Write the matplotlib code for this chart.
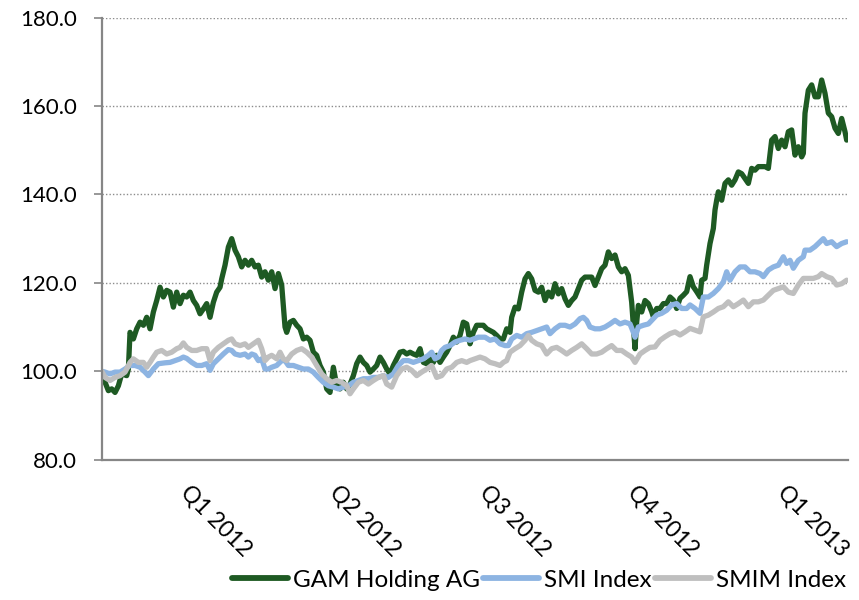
import numpy as np
import matplotlib.pyplot as plt

# x = days since start of the series
gam_days = [0, 2, 4, 6, 8, 10, 12, 15, 16, 17, 19, 21, 23, 25, 27, 29, 31, 33, 35, 37,
            39, 41, 43, 45, 47, 49, 51, 53, 55, 57, 59, 61, 63, 65, 67, 69, 71, 72, 74, 76,
            78, 80, 82, 84, 86, 88, 90, 92, 94, 96, 98, 100, 102, 104, 106, 108, 110, 111, 113, 115,
            117, 119, 121, 123, 125, 127, 129, 131, 133, 135, 137, 139, 141, 143, 145, 147, 149, 151, 153, 155,
            157, 159, 161, 163, 165, 167, 169, 171, 173, 175, 177, 179, 181, 183, 185, 187, 189, 191, 193, 195,
            197, 199, 201, 203, 205, 207, 209, 211, 213, 215, 217, 219, 220, 221, 223, 225, 227, 229, 231, 233,
            235, 237, 239, 241, 243, 245, 246, 248, 250, 252, 254, 256, 258, 260, 262, 264, 266, 268, 270, 272,
            274, 276, 278, 280, 282, 284, 286, 288, 290, 292, 294, 296, 298, 300, 302, 304, 306, 308, 310, 312,
            314, 316, 318, 319, 320, 321, 322, 324, 326, 328, 330, 331, 333, 335, 337, 339, 341, 343, 345, 347,
            349, 351, 353, 355, 357, 359, 360, 362, 363, 365, 367, 368, 369, 370, 372, 374, 376, 378, 380, 382,
            384, 386, 388, 390, 392, 394, 396, 398, 400, 402, 404, 406, 408, 410, 412, 414, 416, 418, 420, 421,
            422, 424, 426, 428, 430, 432, 434, 436, 438, 440, 442, 444, 446, 447]
gam_vals = [100.0, 97.5, 95.6, 96.0, 95.2, 96.7, 99.4, 99.0, 100.5, 108.8, 107.3, 109.6, 111.1, 110.4, 112.2, 109.6, 113.4, 116.0, 119.0, 116.8,
            118.3, 117.9, 114.5, 117.9, 115.3, 117.2, 116.8, 117.9, 116.0, 114.9, 113.0, 114.1, 115.3, 112.2, 115.6, 117.9, 119.0, 120.9, 124.0, 128.1,
            130.0, 127.4, 125.9, 123.6, 125.1, 124.0, 125.1, 123.6, 124.0, 121.3, 122.5, 120.6, 122.5, 118.7, 122.1, 119.5, 110.0, 108.8, 111.1, 111.5,
            110.4, 109.6, 107.3, 107.7, 107.0, 104.3, 103.6, 101.3, 99.8, 96.0, 95.2, 100.9, 96.7, 96.0, 97.5, 96.0, 97.1, 99.0, 101.7, 103.2,
            102.0, 101.3, 99.8, 100.5, 101.3, 103.2, 102.0, 100.5, 99.4, 101.3, 102.8, 104.3, 104.5, 103.9, 104.3, 103.9, 103.6, 105.1, 102.0, 101.7,
            102.8, 102.0, 103.6, 102.0, 103.2, 104.3, 105.8, 107.7, 106.6, 108.1, 111.1, 110.7, 108.8, 106.2, 108.8, 110.4, 110.4, 110.4, 109.6, 109.2,
            108.8, 108.1, 107.3, 107.3, 109.6, 108.8, 112.2, 114.5, 114.1, 117.9, 120.9, 122.1, 120.9, 118.3, 117.9, 119.0, 116.0, 117.9, 116.8, 119.8,
            117.5, 118.7, 116.4, 114.9, 116.0, 116.8, 118.7, 120.6, 121.3, 121.3, 121.3, 119.4, 121.3, 123.2, 124.0, 127.0, 125.5, 126.3, 123.6, 122.5,
            123.2, 121.7, 115.6, 110.4, 105.1, 111.1, 114.9, 113.4, 116.0, 115.3, 113.5, 112.3, 114.2, 114.2, 115.3, 115.3, 116.8, 116.1, 114.2, 116.5,
            117.2, 118.0, 121.4, 119.1, 118.0, 116.8, 120.6, 121.0, 124.0, 128.9, 132.3, 136.5, 138.7, 140.6, 138.7, 142.5, 143.3, 142.1, 143.3, 145.1,
            144.7, 143.6, 142.5, 145.9, 145.5, 146.3, 146.3, 146.3, 145.9, 152.3, 153.1, 150.4, 152.3, 150.8, 154.2, 154.6, 148.9, 150.8, 148.5, 149.3,
            158.4, 163.6, 164.8, 162.1, 162.1, 165.9, 162.9, 158.4, 157.6, 155.0, 153.8, 157.2, 154.2, 152.3]

smi_days = [0, 2, 5, 8, 11, 14, 17, 20, 23, 26, 28, 31, 34, 38, 41, 44, 47, 49, 51, 54,
            57, 60, 63, 65, 67, 70, 73, 76, 78, 80, 83, 86, 88, 90, 92, 94, 96, 98, 100, 102,
            105, 108, 110, 112, 115, 118, 121, 124, 127, 130, 133, 136, 139, 142, 145, 148, 151, 154, 157, 160,
            163, 166, 169, 172, 175, 178, 181, 184, 187, 190, 193, 196, 198, 200, 202, 204, 206, 209, 212, 215,
            218, 221, 226, 230, 233, 236, 239, 242, 244, 246, 249, 252, 255, 258, 261, 264, 267, 269, 272, 275,
            278, 281, 284, 287, 289, 291, 293, 296, 299, 302, 305, 308, 311, 314, 317, 319, 320, 322, 325, 328,
            331, 333, 336, 339, 342, 345, 348, 351, 353, 356, 359, 361, 364, 367, 370, 373, 375, 377, 380, 383,
            386, 389, 392, 395, 397, 400, 403, 406, 409, 411, 413, 415, 418, 421, 422, 425, 428, 431, 433, 435,
            438, 441, 444, 447]
smi_vals = [100.0, 99.8, 99.4, 99.8, 99.8, 100.5, 101.3, 101.3, 100.9, 99.8, 99.0, 100.5, 101.7, 101.9, 102.0, 102.4, 102.8, 103.2, 102.9, 102.0,
            101.3, 101.3, 101.7, 100.2, 101.7, 102.8, 103.9, 104.9, 104.7, 103.9, 103.6, 103.9, 103.2, 103.9, 103.6, 102.4, 102.8, 100.5, 100.5, 100.9,
            101.3, 102.4, 102.4, 101.3, 101.3, 100.9, 100.5, 100.5, 99.8, 98.6, 97.5, 96.7, 96.4, 96.0, 96.4, 96.7, 97.5, 97.9, 98.3, 98.3,
            98.6, 98.6, 99.0, 98.6, 99.4, 101.3, 102.4, 102.4, 102.0, 102.4, 102.8, 103.6, 104.3, 102.8, 103.2, 104.7, 105.4, 105.8, 106.6, 107.0,
            107.3, 107.0, 107.7, 107.7, 107.0, 107.3, 106.2, 105.8, 105.8, 107.3, 108.1, 107.7, 108.5, 108.8, 109.2, 109.6, 110.0, 108.5, 109.6, 110.4,
            110.4, 110.0, 110.7, 111.9, 112.2, 111.5, 110.0, 109.6, 109.6, 110.0, 110.7, 111.5, 110.7, 111.1, 110.7, 108.8, 107.7, 110.0, 110.4, 110.7,
            111.9, 112.7, 113.1, 113.8, 115.0, 115.3, 114.2, 114.2, 115.0, 114.2, 113.1, 116.8, 116.8, 117.6, 118.7, 120.2, 122.5, 120.6, 122.5, 123.6,
            123.6, 122.5, 122.5, 122.1, 121.4, 122.9, 123.6, 124.0, 125.9, 124.4, 125.1, 123.3, 125.1, 125.9, 127.4, 127.4, 128.2, 129.3, 130.0, 128.9,
            129.3, 128.2, 128.9, 129.3]

smim_days = [0, 2, 5, 8, 11, 14, 17, 19, 22, 25, 27, 29, 31, 33, 36, 39, 42, 45, 47, 49,
             51, 54, 57, 60, 63, 65, 67, 70, 73, 76, 78, 80, 83, 86, 88, 91, 94, 96, 98, 100,
             102, 105, 107, 109, 111, 114, 117, 120, 123, 126, 129, 132, 135, 138, 141, 144, 147, 149, 151, 154,
             157, 160, 163, 166, 169, 171, 174, 177, 180, 183, 186, 189, 192, 195, 198, 201, 204, 207, 210, 213,
             216, 219, 221, 224, 227, 230, 233, 236, 239, 241, 243, 245, 248, 251, 254, 256, 258, 261, 264, 267,
             270, 273, 276, 279, 282, 285, 288, 291, 294, 297, 300, 303, 306, 309, 312, 315, 318, 320, 323, 326,
             329, 332, 335, 338, 341, 344, 347, 350, 353, 356, 359, 361, 364, 367, 370, 373, 376, 379, 382, 385,
             388, 391, 394, 397, 400, 403, 406, 409, 412, 415, 418, 421, 424, 427, 430, 432, 435, 438, 441, 444,
             447]
smim_vals = [100.0, 98.6, 97.9, 98.6, 99.0, 99.8, 102.0, 102.8, 102.0, 102.0, 100.9, 102.0, 103.2, 104.3, 104.7, 103.9, 104.3, 105.1, 105.4, 106.4,
             105.4, 104.7, 104.7, 105.1, 105.1, 102.4, 104.3, 105.4, 106.2, 107.0, 107.3, 106.2, 105.8, 106.2, 105.4, 106.2, 107.0, 105.1, 102.4, 103.2,
             103.6, 102.8, 104.3, 102.8, 102.4, 103.9, 104.7, 105.1, 104.3, 103.2, 101.3, 99.4, 98.3, 97.5, 97.9, 97.5, 96.7, 94.9, 96.0, 97.5,
             97.9, 97.1, 97.9, 98.6, 99.0, 97.1, 96.4, 99.0, 100.5, 100.9, 100.2, 99.0, 99.8, 100.5, 101.3, 98.6, 99.0, 100.5, 100.9, 102.0,
             102.4, 102.0, 102.4, 102.8, 103.2, 102.8, 102.0, 101.7, 101.3, 102.0, 102.4, 104.3, 105.1, 105.8, 107.0, 108.1, 107.0, 106.2, 105.8, 103.9,
             105.1, 105.4, 104.7, 103.9, 104.7, 105.4, 106.2, 105.1, 103.9, 103.9, 104.3, 105.1, 105.8, 104.7, 104.7, 103.9, 103.2, 102.0, 103.9, 104.7,
             105.4, 105.5, 107.0, 107.8, 108.5, 108.9, 108.2, 108.9, 109.7, 109.3, 108.9, 112.3, 112.7, 113.4, 114.2, 114.6, 115.7, 114.6, 115.3, 116.1,
             114.6, 115.7, 115.7, 116.1, 117.2, 118.3, 118.7, 119.1, 117.9, 117.6, 119.5, 121.0, 121.0, 121.0, 121.4, 122.1, 121.4, 121.0, 119.5, 119.8,
             120.6]

quarter_days = [54, 143, 233, 322, 412]
quarter_labels = ['Q1 2012', 'Q2 2012', 'Q3 2012', 'Q4 2012', 'Q1 2013']

plt.rcParams['font.family'] = ['Lato', 'DejaVu Sans']

fig = plt.figure(figsize=(8.59, 6.00), dpi=100)
ax = fig.add_axes([0.1184, 0.234, 0.8688, 0.7365])

ax.plot(gam_days, gam_vals, color='#1e5a23', linewidth=3.8, label='GAM Holding AG', solid_capstyle='round')
ax.plot(smi_days, smi_vals, color='#8db4e2', linewidth=3.8, label='SMI Index', solid_capstyle='round')
ax.plot(smim_days, smim_vals, color='#bfbfbf', linewidth=3.8, label='SMIM Index', solid_capstyle='round')

ax.set_xlim(0, 447.8)
ax.set_ylim(80, 180)
ax.set_yticks(np.arange(80, 181, 20))
ax.set_yticklabels([f'{v:.1f}' for v in np.arange(80, 181, 20)])
ax.yaxis.grid(True, color='#8c8c8c', linestyle=(0, (1, 1.5)), linewidth=1.0)
ax.set_axisbelow(True)

ax.set_xticks(quarter_days)
ax.set_xticklabels(quarter_labels, rotation=-45, ha='left', va='top', rotation_mode='anchor')
ax.tick_params(axis='x', length=0, pad=16, labelsize=16.5)
ax.tick_params(axis='y', length=6, width=1.2, color='#868686', pad=12, labelsize=16)

for side in ['top', 'right']:
    ax.spines[side].set_visible(False)
for side in ['left', 'bottom']:
    ax.spines[side].set_color('#868686')
    ax.spines[side].set_linewidth(1.6)

leg = fig.legend(loc='center right', bbox_to_anchor=(0.985, 0.033), ncol=3, frameon=False,
                 fontsize=17.5, handlelength=2.3, handletextpad=0.2, columnspacing=0.15,
                 borderpad=0, borderaxespad=0)
for line in leg.get_lines():
    line.set_linewidth(4.2)

fig.savefig('out.png', dpi=100)
